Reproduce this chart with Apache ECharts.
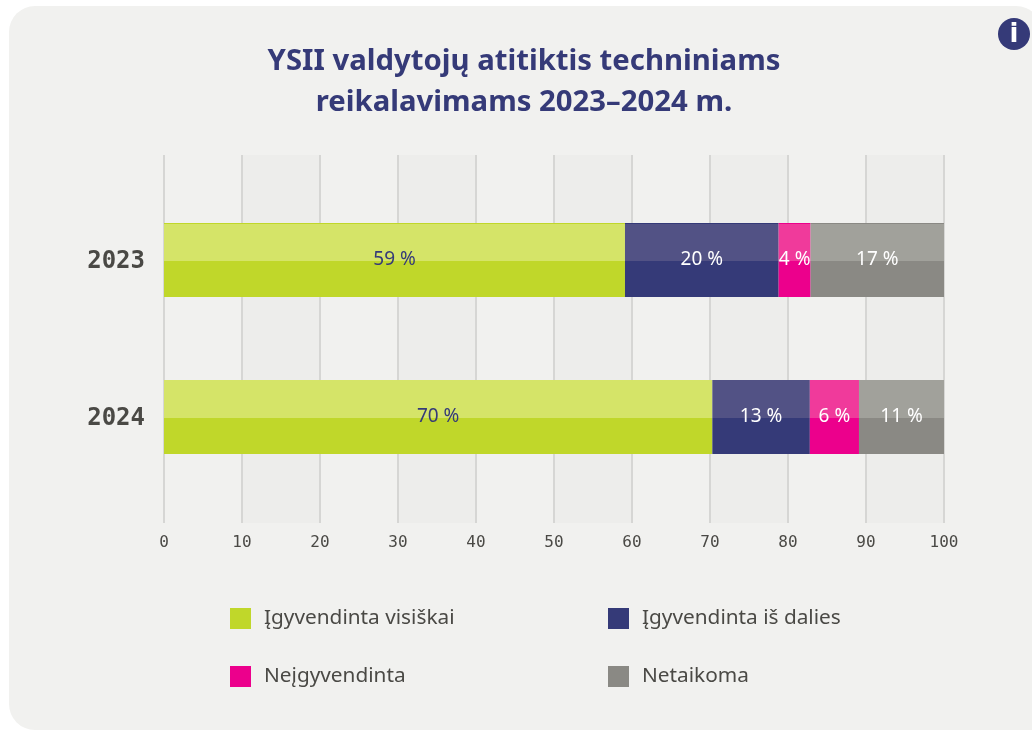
<!DOCTYPE html>
<html><head><meta charset="utf-8">
<style>html,body{margin:0;padding:0;background:#fff}#c{width:1032px;height:730px}</style>
<script src="https://cdn.jsdelivr.net/npm/echarts@6/dist/echarts.min.js"></script>
</head><body><div id="c"></div>
<script>
const titleText = 'YSII valdytojų atitiktis techniniams\nreikalavimams 2023–2024 m.';
const years = ['2023','2024'];
const names = ['Įgyvendinta visiškai','Įgyvendinta iš dalies','Neįgyvendinta','Netaikoma'];
const fullyDone = [59.1,70.3];
const partlyDone = [19.7,12.5];
const notDone = [4.1,6.3];
const notApplicable = [17.2,11.0];
const xTicks = {min:0,max:100,interval:10};
const baseColors = ['#c0d72a','#353a78','#ec008c','#8a8984'];
const lightColors = ['#d5e468','#525285','#f03a9b','#a1a19b'];
const labelColors = ['#353a78','#fff','#fff','#fff'];
const seriesValues = [fullyDone,partlyDone,notDone,notApplicable];
const chart = echarts.init(document.getElementById('c'),null,{renderer:'canvas'});
const mono = '"DejaVu Sans Mono"';
const sans = '"Noto Sans"';
const legendPos = [[230,608],[608,608],[230,666],[608,666]];
const fill = (i,edge)=>({type:'linear',x:0,y:0,x2:0,y2:1,colorStops:[
  {offset:0,color:edge?baseColors[i]:lightColors[i]},{offset:edge?0.013:0,color:edge?baseColors[i]:lightColors[i]},
  {offset:edge?0.013:0,color:lightColors[i]},{offset:0.51,color:lightColors[i]},
  {offset:0.51,color:baseColors[i]},{offset:1,color:baseColors[i]}]});
chart.setOption({
  animation:false,
  graphic:[
    {type:'rect',z:-10,silent:true,shape:{x:9,y:6,width:1033,height:724,r:[26,26,0,26]},style:{fill:'#f1f1ef'}},
    {type:'circle',z:5,shape:{cx:1014,cy:34,r:16},style:{fill:'#353a78'}},
    {type:'text',z:6,style:{x:1014,y:35,text:'i',fill:'#fff',font:'bold 26px "DejaVu Sans"',textAlign:'center',textVerticalAlign:'middle'}}
  ],
  title:{text:titleText,left:519,top:36,textAlign:'center',textStyle:{fontFamily:sans,fontWeight:'bold',fontSize:29.3,lineHeight:41,color:'#353a78'}},
  legend:names.map((n,i)=>({
    left:legendPos[i][0],top:legendPos[i][1],orient:'horizontal',padding:0,itemWidth:21,itemHeight:21,itemGap:0,
    icon:'rect',selectedMode:false,
    data:[{name:n,itemStyle:{color:baseColors[i]}}],
    textStyle:{fontFamily:sans,fontSize:20.8,color:'#4a4945',padding:[2,0,0,8]}
  })),
  grid:[
    {left:164,top:181.5,width:780,height:314},
    {left:164,top:155,width:780,height:368}
  ],
  xAxis:[
    {gridIndex:0,type:'value',...xTicks,show:false},
    {gridIndex:1,type:'value',...xTicks,axisLine:{show:false},axisTick:{show:false},
      axisLabel:{fontFamily:mono,fontSize:16,color:'#4a4945',margin:12},
      splitLine:{show:true,lineStyle:{color:'#d6d6d4',width:2}},
      splitArea:{show:true,areaStyle:{color:['rgba(0,0,0,0)','#ededeb']}}}
  ],
  yAxis:[
    {gridIndex:0,type:'category',inverse:true,data:years,axisLine:{show:false},axisTick:{show:false},
      axisLabel:{fontFamily:mono,fontWeight:'bold',fontSize:24,color:'#4a4945',margin:19,verticalAlign:'top',lineHeight:4}},
    {gridIndex:1,type:'value',min:0,max:1,show:false}
  ],
  series:names.map((n,i)=>({
    name:n,type:'bar',stack:'a',xAxisIndex:0,yAxisIndex:0,barWidth:74,
    data:seriesValues[i].map((v,k)=>({value:v,itemStyle:{color:fill(i,k===0)}})),
    label:{show:true,position:'inside',fontFamily:sans,fontSize:19,color:labelColors[i],
      formatter:p=>Math.round(p.value)+' %'}
  }))
});
</script></body></html>
